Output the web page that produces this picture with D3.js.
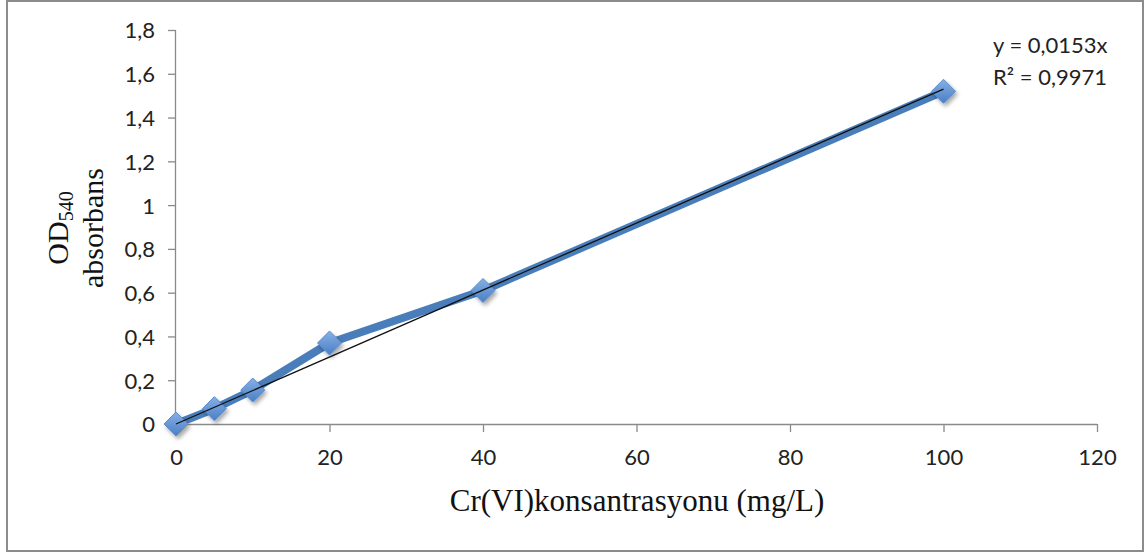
<!DOCTYPE html>
<html>
<head>
<meta charset="utf-8">
<script src="https://cdn.jsdelivr.net/npm/d3@7"></script>
<style>
  html, body { margin: 0; padding: 0; background: #fff; }
  svg { display: block; }
</style>
</head>
<body>
<svg id="chart" width="1146" height="554"></svg>
<script>
// Cr(VI) calibration: concentration (mg/L) vs OD540 absorbance
const concentration = [0, 5, 10, 20, 40, 100];
const absorbance = [0, 0.07, 0.155, 0.37, 0.61, 1.52];
const xTicks = [0, 20, 40, 60, 80, 100, 120];
const yTicks = [0, 0.2, 0.4, 0.6, 0.8, 1, 1.2, 1.4, 1.6, 1.8];
const slope = 0.0153;
const rSquared = 0.9971;
const trendRange = [0, 100];

const svg = d3.select("#chart");
const plot = { left: 176, right: 1097, top: 30, bottom: 424 };

const x = d3.scaleLinear().domain([0, 120]).range([plot.left, plot.right]);
const y = d3.scaleLinear().domain([0, 1.8]).range([plot.bottom, plot.top]);

const fmt = v => String(+v.toFixed(1)).replace(".", ",");
const tickFont = "Lato, 'Open Sans', sans-serif";
const titleFont = "'Liberation Serif', 'Times New Roman', serif";
const axisColor = "#8a8a8a";
const labelSize = 22;

// outer frame
svg.append("rect")
  .attr("x", 7).attr("y", 1)
  .attr("width", 1136).attr("height", 550)
  .attr("fill", "#fff")
  .attr("stroke", "#8c8c8c")
  .attr("stroke-width", 2);

const defs = svg.append("defs");
const grad = defs.append("linearGradient")
  .attr("id", "markerFill")
  .attr("x1", 0).attr("y1", 0).attr("x2", 0).attr("y2", 1);
grad.append("stop").attr("offset", "0%").attr("stop-color", "#86b0e6");
grad.append("stop").attr("offset", "100%").attr("stop-color", "#4a7fc4");

const shadow = defs.append("filter").attr("id", "markerShadow")
  .attr("x", "-50%").attr("y", "-50%").attr("width", "200%").attr("height", "200%");
shadow.append("feGaussianBlur").attr("in", "SourceAlpha").attr("stdDeviation", 2.2).attr("result", "blur");
shadow.append("feOffset").attr("in", "blur").attr("dx", 2).attr("dy", 3).attr("result", "off");
shadow.append("feComponentTransfer").attr("in", "off").attr("result", "soft")
  .append("feFuncA").attr("type", "linear").attr("slope", 0.35);
const merge = shadow.append("feMerge");
merge.append("feMergeNode").attr("in", "soft");
merge.append("feMergeNode").attr("in", "SourceGraphic");

// y axis
const yAxis = d3.axisLeft(y).tickValues(yTicks).tickSize(8).tickPadding(13).tickFormat(fmt);
const gy = svg.append("g").attr("transform", `translate(${plot.left},0)`).call(yAxis);
gy.select(".domain").attr("stroke", axisColor).attr("stroke-width", 1.3)
  .attr("d", `M-0.5,${plot.top}V${plot.bottom}`);
gy.selectAll(".tick line").attr("stroke", axisColor).attr("stroke-width", 1.3);
gy.selectAll(".tick text")
  .attr("font-family", tickFont).attr("font-size", labelSize).attr("fill", "#222")
  .attr("dy", "0.36em");

// x axis
const xAxis = d3.axisBottom(x).tickValues(xTicks).tickSize(8).tickPadding(17).tickFormat(d => d);
const gx = svg.append("g").attr("transform", `translate(0,${plot.bottom})`).call(xAxis);
gx.select(".domain").attr("stroke", axisColor).attr("stroke-width", 1.3)
  .attr("d", `M${plot.left},0.5H${plot.right}`);
gx.selectAll(".tick line").attr("stroke", axisColor).attr("stroke-width", 1.3);
gx.selectAll(".tick text")
  .attr("font-family", tickFont).attr("font-size", labelSize).attr("fill", "#222");

// data series
const pts = concentration.map((c, i) => [c, absorbance[i]]);
const line = d3.line().x(d => x(d[0])).y(d => y(d[1]));
svg.append("path")
  .datum(pts)
  .attr("d", line)
  .attr("fill", "none")
  .attr("stroke", "#4a7ebb")
  .attr("stroke-width", 8)
  .attr("stroke-linejoin", "round");

const r = 12;
svg.append("g").selectAll("path")
  .data(pts)
  .join("path")
  .attr("d", `M0,${-r}L${r},0L0,${r}L${-r},0Z`)
  .attr("transform", d => `translate(${x(d[0])},${y(d[1])})`)
  .attr("fill", "url(#markerFill)")
  .attr("stroke", "#5b8ccc")
  .attr("stroke-width", 1)
  .attr("filter", "url(#markerShadow)");

// linear trendline through origin
svg.append("path")
  .datum(trendRange.map(c => [c, slope * c]))
  .attr("d", line)
  .attr("fill", "none")
  .attr("stroke", "#111")
  .attr("stroke-width", 1.3);

// trendline equation
const eq = svg.append("text")
  .attr("font-family", tickFont).attr("font-size", labelSize).attr("fill", "#222");
eq.append("tspan").attr("x", 993).attr("y", 53).text(`y = ${String(slope).replace(".", ",")}x`);
eq.append("tspan").attr("x", 993).attr("y", 85).text(`R² = ${String(rSquared).replace(".", ",")}`);

// x axis title
svg.append("text")
  .attr("x", 637).attr("y", 511)
  .attr("text-anchor", "middle")
  .attr("font-family", titleFont).attr("font-size", 31).attr("fill", "#111")
  .text("Cr(VI)konsantrasyonu (mg/L)");

// y axis title (two lines)
const yt = svg.append("g").attr("transform", "translate(0,228) rotate(-90)");
const l1 = yt.append("text")
  .attr("x", 0).attr("y", 68)
  .attr("text-anchor", "middle")
  .attr("font-family", titleFont).attr("font-size", 30).attr("fill", "#111");
l1.append("tspan").text("OD");
l1.append("tspan").attr("font-size", 20).attr("dy", 5).text("540");
yt.append("text")
  .attr("x", 0).attr("y", 103)
  .attr("text-anchor", "middle")
  .attr("font-family", titleFont).attr("font-size", 30).attr("fill", "#111")
  .text("absorbans");
</script>
</body>
</html>
